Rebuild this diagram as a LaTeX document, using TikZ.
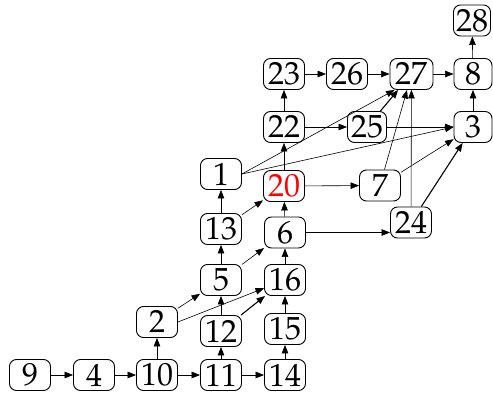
\documentclass[tikz,border=0pt]{standalone}
\usepackage{fontspec}
\setmainfont{TeX Gyre Pagella}
\usetikzlibrary{arrows.meta}
\tikzset{
  nd/.style={draw, rounded corners=7pt, line width=0.9pt, minimum width=41pt, minimum height=31pt, inner sep=1pt, font=\fontsize{32}{32}\selectfont},
  ed/.style={-{Triangle[length=8.5pt,width=6.5pt]}, line width=0.6pt},
  edt/.style={-{Triangle[length=8.5pt,width=6.5pt]}, line width=1.1pt}
}
\begin{document}
\begin{tikzpicture}[x=1pt,y=-1pt]
\useasboundingbox (0,0) rectangle (493,395);
\node[nd] (n9) at (30,375) {9};
\node[nd] (n4) at (94,375) {4};
\node[nd] (n10) at (157,375) {10};
\node[nd] (n11) at (221,375) {11};
\node[nd] (n14) at (285,375) {14};
\node[nd] (n2) at (157,322) {2};
\node[nd] (n12) at (221,331) {12};
\node[nd] (n15) at (285,329) {15};
\node[nd] (n5) at (221,280) {5};
\node[nd] (n16) at (285,280) {16};
\node[nd] (n13) at (221,229) {13};
\node[nd] (n6) at (285,232.5) {6};
\node[nd] (n24) at (411,222.5) {24};
\node[nd] (n1) at (221,174) {1};
\node[nd, text=red] (n20) at (284,186) {20};
\node[nd] (n7) at (380,185.5) {7};
\node[nd] (n22) at (284,127) {22};
\node[nd, minimum width=39pt] (n25) at (367,127) {25};
\node[nd, minimum width=38pt] (n3) at (473,127) {3};
\node[nd] (n23) at (284,74) {23};
\node[nd] (n26) at (347,74) {26};
\node[nd, minimum width=43pt] (n27) at (411.5,74) {27};
\node[nd, minimum width=38pt] (n8) at (473,74) {8};
\node[nd, minimum width=37pt] (n28) at (472,20.5) {28};

\draw[ed] (n9) -- (n4);
\draw[ed] (n4) -- (n10);
\draw[ed] (n10) -- (n11);
\draw[ed] (n11) -- (n14);
\draw[ed] (n10) -- (n2);
\draw[ed] (n11) -- (n12);
\draw[ed] (n14) -- (n15);
\draw[ed] (n15) -- (n16);
\draw[ed] (n12) -- (n5);
\draw[edt] (n12) -- (n16);
\draw[ed] (n2) -- (n5);
\draw[ed] (n2.east) -- (n16);
\draw[ed] (n5) -- (n13);
\draw[ed] (n5) -- (n6);
\draw[ed] (n16) -- (n6);
\draw[ed] (n13) -- (n1);
\draw[ed] (n13) -- (n20);
\draw[ed] (n6) -- (n20);
\draw[ed] (n6.east) -- (n6.east -| n24.west);
\draw[ed] (n1.east) -- ([xshift=5pt]n27.south west);
\draw[ed] (n1.east) -- (n3.west);
\draw[ed] (n20) -- (n22);
\draw[ed] (n20) -- (n7);
\draw[ed] (n22) -- (n23);
\draw[ed] (n22) -- (n25);
\draw[ed] (n23) -- (n26);
\draw[ed] (n26) -- (n27);
\draw[ed] (n27) -- (n8);
\draw[ed] (n3) -- (n8);
\draw[ed] (n8) -- (n28);
\draw[edt] (n25) -- (n27);
\draw[ed] (n25) -- (n3);
\draw[ed] (n7) -- (n27);
\draw[ed] (n7) -- (n3);
\draw[ed] (n24) -- (n27);
\draw[edt] (n24) -- (n3);
\end{tikzpicture}
\end{document}
